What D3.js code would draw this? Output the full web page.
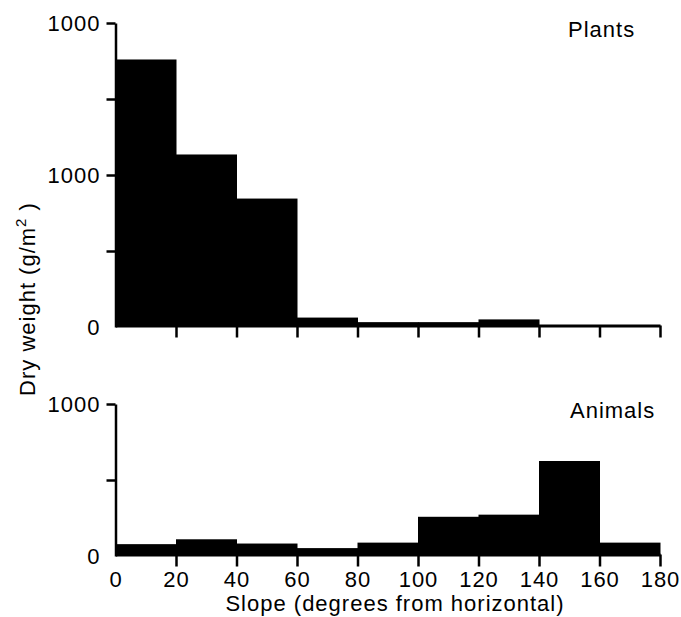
<!DOCTYPE html>
<html>
<head>
<meta charset="utf-8">
<script src="https://cdn.jsdelivr.net/npm/d3@7"></script>
<style>
  html, body { margin: 0; padding: 0; background: #fff; }
  svg { display: block; }
  text { font-family: "Liberation Sans", Arial, Helvetica, sans-serif; fill: #000; letter-spacing: 1px; }
</style>
</head>
<body>
<svg id="chart" width="681" height="617"></svg>
<script>
// ---- data ----
const binStarts = [0, 20, 40, 60, 80, 100, 120, 140, 160];
const binWidth = 20;
const plantsValues  = [1760, 1135, 845, 62, 32, 32, 50, 0, 0];
const animalsValues = [78, 110, 82, 52, 88, 258, 272, 625, 88];
const xTickValues = [0, 20, 40, 60, 80, 100, 120, 140, 160, 180];
const xTickLabels = ["0", "20", "40", "60", "80", "100", "120", "140", "160", "180"];
const plantsYTickValues = [0, 500, 1000, 1500, 2000];
const plantsYTickLabels = ["0", "", "1000", "", "1000"];
const animalsYTickValues = [0, 500, 1000];
const animalsYTickLabels = ["0", "", "1000"];
const panelNames = ["Plants", "Animals"];
const xTitle = "Slope (degrees from horizontal)";

// ---- layout ----
const FONT = 22;
const svg = d3.select("#chart");
const x = d3.scaleLinear().domain([0, 180]).range([115.5, 660]);

const panels = [
  { name: panelNames[0], values: plantsValues, domain: [0, 2000], range: [327, 23],
    tv: plantsYTickValues, tl: plantsYTickLabels, xLabels: false, labelX: 568, labelY: 37 },
  { name: panelNames[1], values: animalsValues, domain: [0, 1000], range: [556, 404],
    tv: animalsYTickValues, tl: animalsYTickLabels, xLabels: true, labelX: 570, labelY: 418 }
];

panels.forEach(p => {
  const y = d3.scaleLinear().domain(p.domain).range(p.range);
  const g = svg.append("g");

  // bars
  g.selectAll("rect.bar")
    .data(p.values.map((v, i) => ({ x0: binStarts[i], v })))
    .join("rect")
    .attr("class", "bar")
    .attr("x", d => x(d.x0))
    .attr("width", d => x(d.x0 + binWidth) - x(d.x0) + 0.5)
    .attr("y", d => y(d.v))
    .attr("height", d => y(0) - y(d.v))
    .attr("fill", "#000");

  // x axis
  const xAxis = d3.axisBottom(x)
    .tickValues(xTickValues)
    .tickSize(12)
    .tickSizeOuter(0)
    .tickPadding(5)
    .tickFormat((d, i) => p.xLabels ? xTickLabels[i] : "");
  const xg = g.append("g")
    .attr("transform", `translate(0,${y(0) - 1.5})`)
    .call(xAxis);
  xg.select(".domain").attr("stroke", "#000").attr("stroke-width", 3);
  xg.selectAll(".tick line").attr("stroke", "#000").attr("stroke-width", 2.5);
  xg.selectAll(".tick").filter(d => d === 0).select("line").remove();
  xg.selectAll(".tick text")
    .style("font-size", FONT + "px")
    .style("font-family", "Liberation Sans, Arial, sans-serif")
    .attr("fill", "#000");

  // y axis
  const yAxis = d3.axisLeft(y)
    .tickValues(p.tv)
    .tickSize(9)
    .tickSizeOuter(0)
    .tickPadding(6)
    .tickFormat((d, i) => p.tl[i]);
  const yg = g.append("g")
    .attr("transform", `translate(${x(0)},0)`)
    .call(yAxis);
  yg.select(".domain").attr("stroke", "#000").attr("stroke-width", 2.5);
  yg.selectAll(".tick line").attr("stroke", "#000").attr("stroke-width", 2.5);
  yg.selectAll(".tick").filter(d => d === 0).select("line").remove();
  yg.selectAll(".tick text")
    .style("font-size", FONT + "px")
    .style("font-family", "Liberation Sans, Arial, sans-serif")
    .attr("fill", "#000");

  // panel label
  g.append("text")
    .attr("x", p.labelX)
    .attr("y", p.labelY)
    .attr("text-anchor", "start")
    .style("font-size", FONT + "px")
    .text(p.name);
});

// x title
svg.append("text")
  .attr("x", 395)
  .attr("y", 611)
  .attr("text-anchor", "middle")
  .style("font-size", FONT + "px")
  .text(xTitle);

// y title
const yt = svg.append("text")
  .attr("transform", "translate(35,299) rotate(-90)")
  .attr("text-anchor", "middle")
  .style("font-size", FONT + "px");
yt.append("tspan").text("Dry weight (g/m");
yt.append("tspan").attr("dy", -9).style("font-size", "15px").text("2");
yt.append("tspan").attr("dy", 9).text(" )");
</script>
</body>
</html>
